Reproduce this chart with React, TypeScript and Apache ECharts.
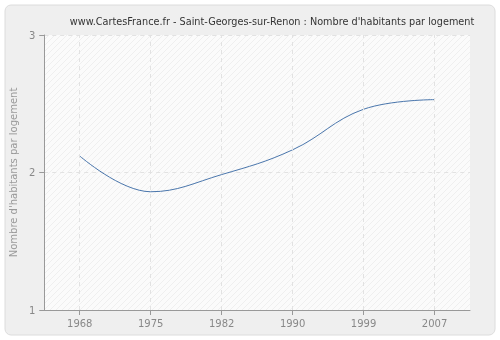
import React, { useEffect, useRef } from "react";
import * as echarts from "echarts";

const years = ["1968", "1975", "1982", "1990", "1999", "2007"];
const values = [2.12, 1.86, 1.985, 2.165, 2.46, 2.53];
const yTicks = [1, 2, 3];

function makeHatch(): HTMLCanvasElement {
  const c = document.createElement("canvas");
  c.width = 6;
  c.height = 6;
  const ctx = c.getContext("2d")!;
  ctx.fillStyle = "#fbfbfb";
  ctx.fillRect(0, 0, 6, 6);
  ctx.strokeStyle = "#efefef";
  ctx.lineWidth = 1;
  ctx.beginPath();
  ctx.moveTo(-1, 7);
  ctx.lineTo(7, -1);
  ctx.moveTo(-1, 1);
  ctx.lineTo(1, -1);
  ctx.moveTo(5, 7);
  ctx.lineTo(7, 5);
  ctx.stroke();
  return c;
}

export default function App() {
  const ref = useRef<HTMLDivElement>(null);
  useEffect(() => {
    const chart = echarts.init(ref.current!, null, { renderer: "svg" });
    chart.setOption({
      animation: false,
      backgroundColor: "transparent",
      title: {
        text: "www.CartesFrance.fr - Saint-Georges-sur-Renon : Nombre d'habitants par logement",
        left: 267,
        textAlign: "center",
        top: 11,
        textStyle: { fontFamily: "DejaVu Sans", fontSize: 9.7, fontWeight: "normal", color: "#333" },
      },
      graphic: [
        {
          type: "rect",
          shape: { x: 5, y: 5, width: 490, height: 330, r: 6 },
          style: { fill: "#efefef", stroke: "#dcdcdc", lineWidth: 1 },
          z: -10,
          silent: true,
        },
      ],
      grid: {
        left: 40,
        right: 30,
        top: 35,
        bottom: 30,
        show: true,
        backgroundColor: { image: makeHatch(), repeat: "repeat" },
        borderColor: "#e4e4e4",
        borderWidth: 0,
      },
      xAxis: {
        type: "category",
        data: years,
        boundaryGap: true,
        axisLine: { show: true, lineStyle: { color: "#999" } },
        axisTick: { show: true, alignWithLabel: true, length: 5, lineStyle: { color: "#999" } },
        axisLabel: { color: "#888", fontFamily: "DejaVu Sans", fontSize: 10, margin: 8 },
        splitLine: { show: false },
      },
      yAxis: {
        type: "value",
        min: yTicks[0],
        max: yTicks[yTicks.length - 1],
        interval: 1,
        name: "Nombre d'habitants par logement",
        nameLocation: "middle",
        nameGap: 25,
        nameTextStyle: { color: "#999", fontFamily: "DejaVu Sans", fontSize: 10 },
        axisLine: { show: true, lineStyle: { color: "#999" } },
        axisTick: { show: true, length: 5, lineStyle: { color: "#999" } },
        axisLabel: { color: "#888", fontFamily: "DejaVu Sans", fontSize: 10, margin: 9 },
        splitLine: { show: true, lineStyle: { color: "#e2e2e2", type: [4, 4] } },
      },
      series: [
        {
          type: "line",
          data: values,
          smooth: 0.4,
          symbol: "none",
          lineStyle: { color: "#4a76ac", width: 1 },
          z: 3,
          markLine: {
            silent: true,
            symbol: "none",
            label: { show: false },
            lineStyle: { color: "#e2e2e2", type: [4, 4], width: 1 },
            data: years.map((y) => ({ xAxis: y })),
          },
        },
      ],
    });
    return () => chart.dispose();
  }, []);
  return (
    <div
      ref={ref}
      style={{ position: "fixed", left: 0, top: 0, width: 500, height: 340 }}
    />
  );
}
